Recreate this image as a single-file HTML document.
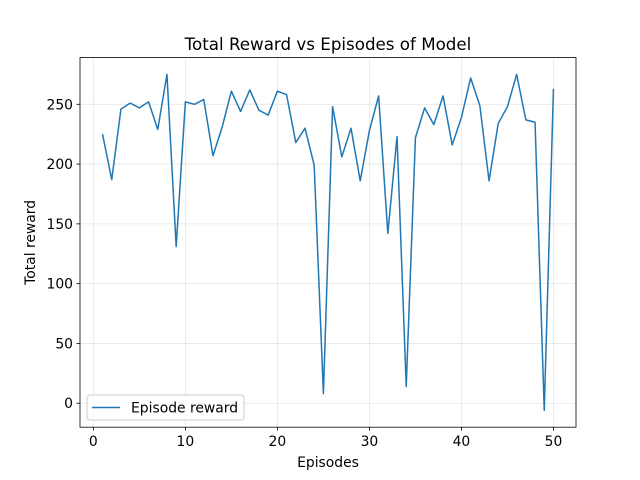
<!DOCTYPE html>
<html><head><meta charset="utf-8"><style>
body{margin:0;background:#fff}
svg{display:block;font-family:"DejaVu Sans","Liberation Sans",sans-serif}
</style></head><body>
<svg id="chart" width="640" height="480"></svg>
<script>
const episodes=[];for(let i=1;i<=50;i++)episodes.push(i);
const rewards=[225,187,246,251,247,252,229,275,131,252,250,254,207,231,261,244,262,245,241,261,258,218,230,199,8,248,206,230,186,228,257,142,223,14,222,247,233,257,216,239,272,249,186,234,248,275,237,235,-6,263];
const xTicks=[0,10,20,30,40,50];
const yTicks=[0,50,100,150,200,250];
const L=80,R=576,T=57.6,B=427.2;
const xMin=-1.45,xMax=52.45,yMin=-20.05,yMax=289.05;
const sx=v=>L+(v-xMin)/(xMax-xMin)*(R-L);
const sy=v=>B-(v-yMin)/(yMax-yMin)*(B-T);
const svg=document.getElementById('chart');
const NS='http://www.w3.org/2000/svg';
function mk(tag,attrs,parent){const e=document.createElementNS(NS,tag);for(const k in attrs)e.setAttribute(k,attrs[k]);(parent||svg).appendChild(e);return e;}
const grid=mk('g',{});


xTicks.forEach(t=>{
  mk('line',{x1:sx(t),x2:sx(t),y1:T,y2:B,stroke:'#b0b0b0','stroke-opacity':0.3,'stroke-width':0.8},grid);
  mk('line',{x1:sx(t),x2:sx(t),y1:B,y2:B+3.5,stroke:'#000','stroke-width':0.8});
  const tx=mk('text',{x:sx(t),y:B+19,'text-anchor':'middle','font-size':13.9});
  tx.textContent=t;
  
  
});
yTicks.forEach(t=>{
  mk('line',{x1:L,x2:R,y1:sy(t),y2:sy(t),stroke:'#b0b0b0','stroke-opacity':0.3,'stroke-width':0.8},grid);
  mk('line',{x1:L-3.5,x2:L,y1:sy(t),y2:sy(t),stroke:'#000','stroke-width':0.8});
  const tx=mk('text',{x:L-7,y:sy(t)+5,'text-anchor':'end','font-size':13.9});
  tx.textContent=t;
  
  
});
const line=mk('polyline',{points:episodes.map((e,i)=>sx(e)+','+sy(rewards[i])).join(' '),fill:'none',stroke:'#1f77b4','stroke-width':1.5,'stroke-linejoin':'round'});


const frame=mk('rect',{x:L,y:T,width:R-L,height:B-T,fill:'none',stroke:'#000','stroke-width':0.8});


const title=mk('text',{x:(L+R)/2,y:50,'text-anchor':'middle','font-size':16.7});
title.textContent='Total Reward vs Episodes of Model';


const xl=mk('text',{x:(L+R)/2,y:467,'text-anchor':'middle','font-size':13.9});
xl.textContent='Episodes';


const yl=mk('text',{x:0,y:0,'text-anchor':'middle','font-size':13.9,transform:'translate(35,'+((T+B)/2)+') rotate(-90)'});
yl.textContent='Total reward';


const lg=mk('g',{});


mk('rect',{x:87,y:395,width:157,height:25,rx:3,fill:'#fff','fill-opacity':0.8,stroke:'#ccc','stroke-width':1},lg);
mk('line',{x1:92,x2:120,y1:407.5,y2:407.5,stroke:'#1f77b4','stroke-width':1.5},lg);
const lt=mk('text',{x:131,y:412.5,'font-size':13.9},lg);
lt.textContent='Episode reward';


</script>
</body></html>
